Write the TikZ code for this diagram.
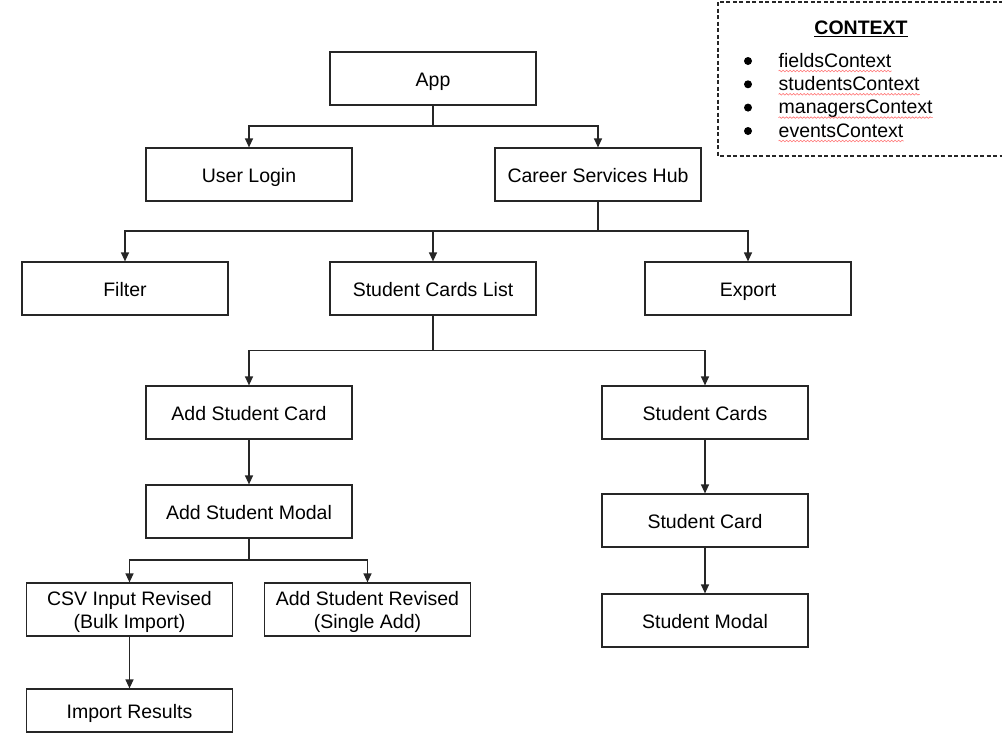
\documentclass[tikz,border=0pt]{standalone}
\usepackage{fontspec}
\setmainfont{Liberation Sans}
\usetikzlibrary{arrows.meta,decorations.pathmorphing}
\tikzset{
  box/.style={draw=black!85, line width=1.2pt, fill=white, minimum width=206pt, minimum height=53pt,
    inner sep=0pt, align=center, font=\fontsize{19.5}{23.5}\selectfont, text height=15pt, text depth=0pt},
  twoline/.style={text height=38.5pt, text depth=0pt},
  conn/.style={draw=black!85, line width=1.2pt},
  arr/.style={conn, -{Triangle[length=9pt,width=8pt]}},
  ctxtext/.style={inner sep=0pt, anchor=base west, font=\fontsize{19.5}{23}\selectfont},
  squig/.style={draw=red!55, line width=0.6pt, decorate, decoration={snake, segment length=3.5pt, amplitude=0.8pt}}
}
\begin{document}
\begin{tikzpicture}[x=1pt,y=-1pt]
\useasboundingbox (0,0) rectangle (1002,745);
\fill[white] (0,0) rectangle (1002,745);
\clip (0,0) rectangle (1002,745);

% context box
\draw[black!85, line width=1.1pt, dash pattern=on 4pt off 2.5pt] (718,2) rectangle (1012,156);
\node[inner sep=0pt, anchor=base, font=\fontsize{19.5}{23}\selectfont\bfseries] (ctitle) at (861,34) {CONTEXT};
\draw[line width=1.3pt] ([yshift=-2.3pt]ctitle.base west) -- ([yshift=-2.3pt]ctitle.base east);
\foreach \n/\t/\y in {c1/fieldsContext/67, c2/studentsContext/90.3, c3/managersContext/113.6, c4/eventsContext/137}{
  \fill ([xshift=0pt]748,\y-6) circle (4pt);
  \node[ctxtext] (\n) at (778.5,\y) {\t};
  \draw[squig] ([yshift=-4pt]\n.base west) -- ([yshift=-4pt]\n.base east);
}

% nodes
\node[box] (app) at (433,78.5) {App};
\node[box] (ul) at (249,174.5) {User Login};
\node[box] (csh) at (598,174.5) {Career Services Hub};
\node[box] (filter) at (125,288.5) {Filter};
\node[box] (scl) at (433,288.5) {Student Cards List};
\node[box] (export) at (748,288.5) {Export};
\node[box] (asc) at (249,412.5) {Add Student Card};
\node[box] (sc) at (705,412.5) {Student Cards};
\node[box] (asm) at (249,511.5) {Add Student Modal};
\node[box] (card) at (705,520.5) {Student Card};
\node[box, twoline] (csv) at (129.5,609.5) {CSV Input Revised\\(Bulk Import)};
\node[box, twoline] (asr) at (367.5,609.5) {Add Student Revised\\(Single Add)};
\node[box, minimum height=43pt] (ir) at (129.5,710.5) {Import Results};
\node[box] (sm) at (705,620.5) {Student Modal};

% junctions
\coordinate (j1) at (433,126);
\coordinate (j2) at (598,231);
\coordinate (j3) at (433,350.5);
\coordinate (j4) at (249,560);

\draw[conn] (app.south) -- (j1);
\draw[arr] (j1) -| (ul.north);
\draw[arr] (j1) -| (csh.north);

\draw[conn] (csh.south) -- (j2);
\draw[arr] (j2) -| (filter.north);
\draw[arr] (j2) -| (scl.north);
\draw[arr] (j2) -| (export.north);

\draw[conn] (scl.south) -- (j3);
\draw[arr] (j3) -| (asc.north);
\draw[arr] (j3) -| (sc.north);

\draw[arr] (asc.south) -- (asm.north);
\draw[conn] (asm.south) -- (j4);
\draw[arr] (j4) -| (csv.north);
\draw[arr] (j4) -| (asr.north);
\draw[arr] (csv.south) -- (ir.north);

\draw[arr] (sc.south) -- (card.north);
\draw[arr] (card.south) -- (sm.north);
\end{tikzpicture}
\end{document}
